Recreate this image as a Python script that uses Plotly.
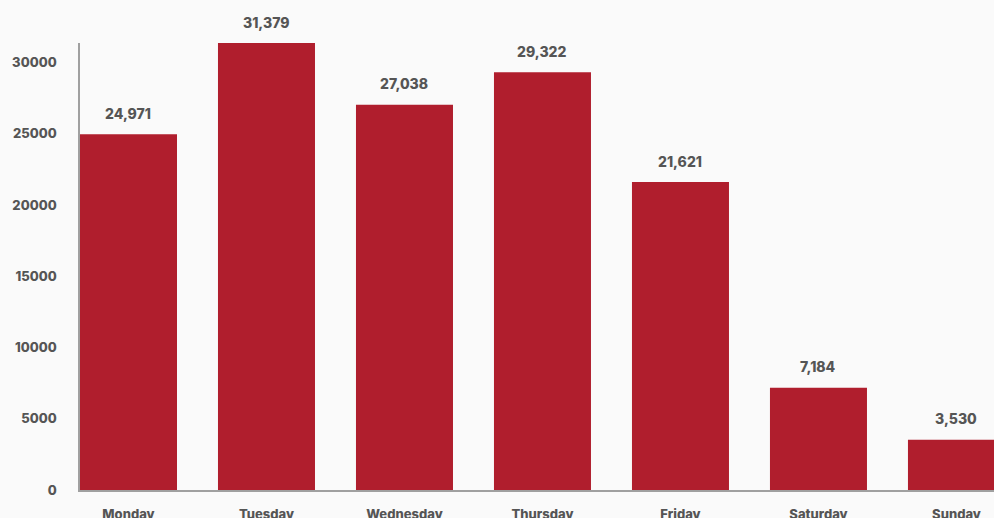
import plotly.graph_objects as go

days = ["Monday", "Tuesday", "Wednesday", "Thursday", "Friday", "Saturday", "Sunday"]
counts = [24971, 31379, 27038, 29322, 21621, 7184, 3530]
y_ticks = [0, 5000, 10000, 15000, 20000, 25000, 30000]

BAR = "#B01E2D"
BG = "#FAFAFA"
TXT = "#555555"
FONT = "Inter, Roboto, Arial, sans-serif"

fig = go.Figure()
fig.add_trace(go.Bar(x=days, y=counts, marker=dict(color=BAR, line=dict(width=0)),
                     hoverinfo="skip"))

for d, v in zip(days, counts):
    fig.add_annotation(x=d, y=v, text=f"{v:,}", showarrow=False,
                       yshift=21, font=dict(family=FONT, size=14, color=TXT, weight=800))

fig.update_layout(
    width=994, height=518,
    margin=dict(l=80, r=0, t=43, b=28, autoexpand=False),
    paper_bgcolor=BG, plot_bgcolor=BG,
    bargap=0.297,
    showlegend=False,
    font=dict(family=FONT, size=14, color=TXT),
)
fig.update_xaxes(
    range=[-0.3514, 6.272], automargin=False,
    showgrid=False, showline=True, linecolor="#A0A0A0", linewidth=1.5,
    ticks="outside", ticklen=12, tickcolor="rgba(0,0,0,0)",
    tickfont=dict(family=FONT, size=13, color=TXT, weight=800),
    tickvals=days, ticktext=days,
)
fig.update_yaxes(
    range=[0, 31379], automargin=False,
    showgrid=False, zeroline=False, showline=True, linecolor="#A0A0A0", linewidth=1.5,
    tickvals=y_ticks, ticktext=[str(t) for t in y_ticks],
    ticks="outside", ticklen=19, tickcolor="rgba(0,0,0,0)",
    tickfont=dict(family=FONT, size=13, color=TXT, weight=800),
)

fig.write_html("out.html", config={"displayModeBar": False},
               post_script="document.body.style.margin='0';document.body.style.overflow='hidden';")
